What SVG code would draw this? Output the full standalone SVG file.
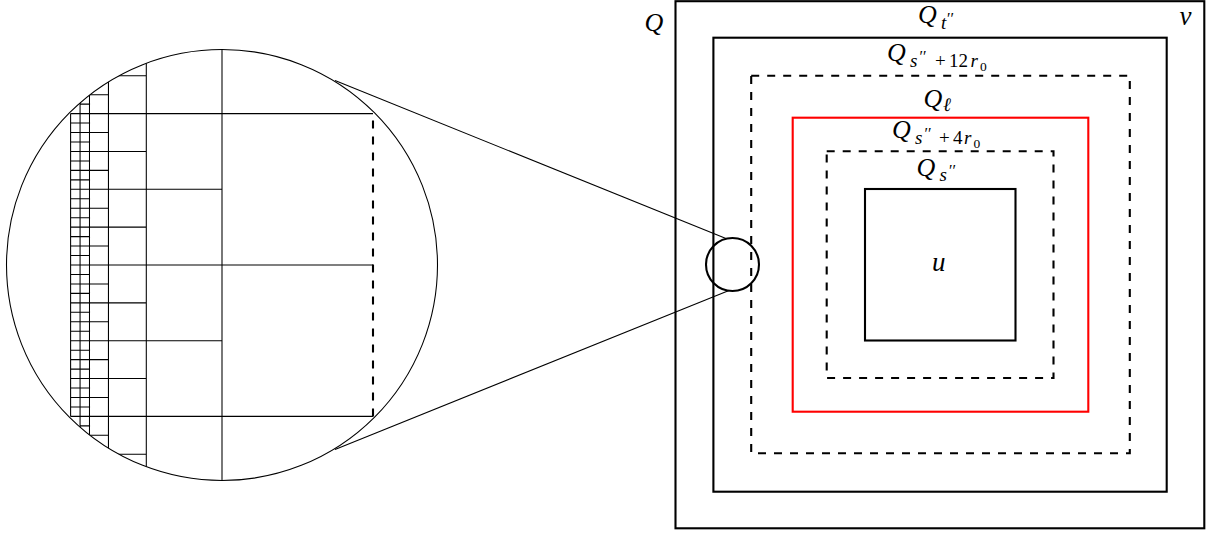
<svg xmlns="http://www.w3.org/2000/svg" width="1211" height="533" viewBox="0 0 1211 533">
<defs>
<style>
.thick{fill:none;stroke:#000;stroke-width:2.1}
.thin{fill:none;stroke:#000;stroke-width:1.07}
.dash{stroke-dasharray:8 8}
.red{stroke:#ff0000}
text{font-family:"Liberation Serif","DejaVu Serif",serif;fill:#000}
.q{font-style:italic;font-size:26px}
.s{font-style:italic;font-size:19px}
.r{font-style:normal;font-size:19px}
.p{font-style:normal;font-size:16px}
.ss{font-style:normal;font-size:13.5px}
.big{font-style:italic;font-size:27px}
</style>
<clipPath id="lens"><circle cx="222" cy="265" r="215.5"/></clipPath>
</defs>
<rect width="1211" height="533" fill="#fff"/>

<g id="zoom-lens">
<circle class="thin" cx="222" cy="265" r="215.5"/>
<g clip-path="url(#lens)">
<path class="thin" d="M70.6 113.6V416.4M80.07 40V490M89.5 40V490M108.45 40V490M146.3 40V490M222 40V490
M70.6 113.6H373M70.6 123.06H89.5M70.6 132.53H108.45M70.6 141.99H89.5M70.6 151.45H146.3M70.6 160.91H89.5M70.6 170.38H108.45M70.6 179.84H89.5
M70.6 189.3H222M70.6 198.76H89.5M70.6 208.23H108.45M70.6 217.69H89.5M70.6 227.15H146.3M70.6 236.61H89.5M70.6 246.08H108.45M70.6 255.54H89.5
M70.6 265H373M70.6 274.46H89.5M70.6 283.93H108.45M70.6 293.39H89.5M70.6 302.85H146.3M70.6 312.31H89.5M70.6 321.78H108.45M70.6 331.24H89.5
M70.6 340.7H222M70.6 350.16H89.5M70.6 359.63H108.45M70.6 369.09H89.5M70.6 378.55H146.3M70.6 388.01H89.5M70.6 397.48H108.45M70.6 406.94H89.5
M70.6 416.4H373
M80.07 104.14H89.5M80.07 425.86H89.5M89.5 94.68H108.45M89.5 435.33H108.45M108.45 75.75H146.3M108.45 454.25H146.3"/>
<path class="thick dash" d="M373 416.4V113.6"/>
</g>
</g>

<g id="lens-small">
<circle class="thick" cx="732.5" cy="264.5" r="26.5"/>
</g>

<g id="connectors">
<line class="thin" x1="335" y1="80.5" x2="726" y2="238.5"/>
<line class="thin" x1="335" y1="449.5" x2="729" y2="290.5"/>
</g>

<g id="Q">
<rect class="thick" x="675.5" y="1.2" width="528.8" height="527.1"/>
<text class="q" x="644.5" y="31">Q</text>
</g>
<g id="v-label"><text class="big" x="1179.5" y="25.3">v</text></g>
<g id="Q-t">
<rect class="thick" x="713.4" y="37.7" width="453.3" height="454"/>
<text class="q" x="918" y="23">Q<tspan class="s" x="941" y="28.5">t</tspan><tspan class="p" x="947" y="23.5">′′</tspan></text>
</g>
<g id="Q-s12">
<rect class="thick dash" x="751.2" y="75.7" width="378.6" height="377.6"/>
<text class="q" x="887" y="61">Q<tspan class="s" x="910" y="66.5">s</tspan><tspan class="p" x="919.5" y="61.5">′′</tspan><tspan class="r" x="935" y="66.5">+</tspan><tspan class="r" x="949" y="66.5">12</tspan><tspan class="s" x="970.5" y="66.5">r</tspan><tspan class="ss" x="980" y="70.5">0</tspan></text>
</g>
<g id="Q-ell">
<rect class="thick red" x="792.7" y="117.7" width="295.6" height="294"/>
<text class="q" x="923.5" y="107">Q<tspan class="s" x="943" y="111">ℓ</tspan></text>
</g>
<g id="Q-s4">
<rect class="thick dash" x="826.7" y="151.2" width="226.8" height="226.8"/>
<text class="q" x="892" y="138">Q<tspan class="s" x="915" y="143.5">s</tspan><tspan class="p" x="924.5" y="138.5">′′</tspan><tspan class="r" x="939" y="143.5">+</tspan><tspan class="r" x="953" y="143.5">4</tspan><tspan class="s" x="964" y="143.5">r</tspan><tspan class="ss" x="973.5" y="147.5">0</tspan></text>
</g>
<g id="Q-s">
<rect class="thick" x="865" y="189" width="150.5" height="151.5"/>
<text class="q" x="916.5" y="175.5">Q<tspan class="s" x="939.5" y="181">s</tspan><tspan class="p" x="949" y="176">′′</tspan></text>
<text class="big" x="932" y="270.5">u</text>
</g>
</svg>
